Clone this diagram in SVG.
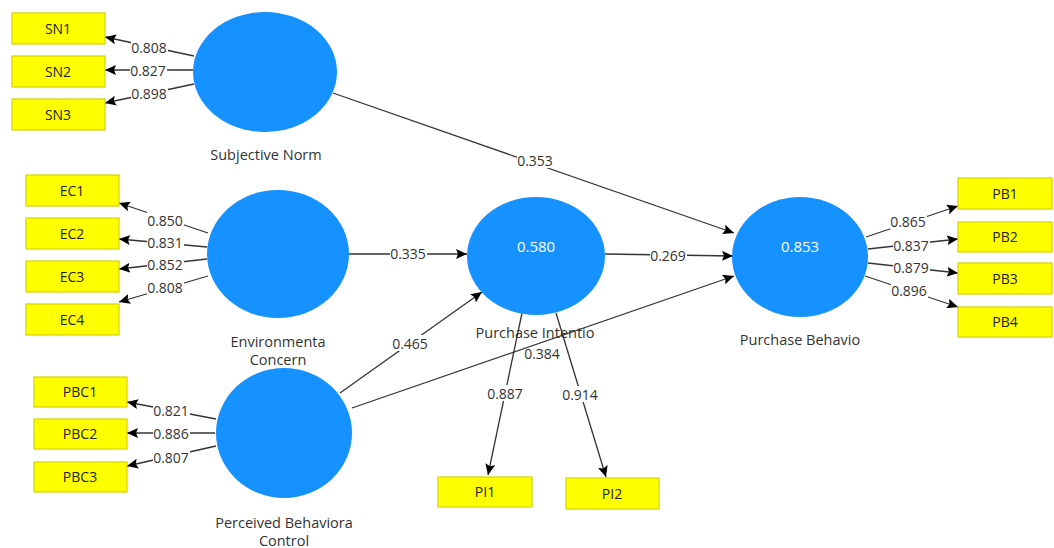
<svg xmlns="http://www.w3.org/2000/svg" width="1054" height="548" viewBox="0 0 1054 548">
<defs>
<marker id="ah" markerUnits="userSpaceOnUse" markerWidth="12" markerHeight="10" refX="11" refY="5" orient="auto">
<path d="M0,0 L11,5 L0,10 L2,5 Z" fill="#000"/>
</marker>
<style>
.lat{fill:#1592FF;}
.box{fill:#FFFF00;stroke:#D2D200;stroke-width:1.2;}
.bt{font-family:"Open Sans","Noto Sans",sans-serif;font-size:14px;fill:#222;text-anchor:middle;}
.nl{font-family:"Open Sans","Noto Sans",sans-serif;font-size:14.5px;fill:#333;text-anchor:middle;}
.r2{font-family:"Open Sans","Noto Sans",sans-serif;font-size:15px;fill:#FFFFFF;text-anchor:middle;}
.ln{stroke:#333;stroke-width:1.3;fill:none;marker-end:url(#ah);}
.lb{fill:#FFFFFF;}
.vt{font-family:"Open Sans","Noto Sans",sans-serif;font-size:14px;fill:#333;text-anchor:middle;dominant-baseline:central;}
</style>
</defs>
<rect width="1054" height="548" fill="#FFFFFF"/>
<g id="connectors">
<line class="ln" x1="194" y1="56" x2="105" y2="37"/>
<line class="ln" x1="193" y1="70" x2="105" y2="70"/>
<line class="ln" x1="194" y1="84" x2="105" y2="103"/>
<line class="ln" x1="208" y1="233" x2="119" y2="203"/>
<line class="ln" x1="207" y1="247" x2="119" y2="239"/>
<line class="ln" x1="207" y1="259" x2="119" y2="269"/>
<line class="ln" x1="208" y1="276" x2="119" y2="302"/>
<line class="ln" x1="216" y1="419" x2="127" y2="402"/>
<line class="ln" x1="215" y1="433" x2="127" y2="433"/>
<line class="ln" x1="216" y1="446" x2="127" y2="466"/>
<line class="ln" x1="866" y1="237" x2="958" y2="206"/>
<line class="ln" x1="868" y1="249" x2="958" y2="239"/>
<line class="ln" x1="868" y1="263" x2="958" y2="273"/>
<line class="ln" x1="865" y1="276" x2="958" y2="307"/>
<line class="ln" x1="522" y1="313" x2="488" y2="475"/>
<line class="ln" x1="556" y1="313" x2="606" y2="477"/>
<line class="ln" x1="333" y1="93" x2="734" y2="233"/>
<line class="ln" x1="349" y1="254" x2="467" y2="254"/>
<line class="ln" x1="605" y1="254" x2="733" y2="256"/>
<line class="ln" x1="340" y1="393" x2="482" y2="292"/>
<line class="ln" x1="352" y1="408" x2="734" y2="276"/>
<g id="connector-labels">
<rect class="lb" x="131" y="39" width="37" height="16"/><text class="vt" x="149" y="47">0.808</text>
<rect class="lb" x="130" y="62" width="37" height="16"/><text class="vt" x="148" y="70">0.827</text>
<rect class="lb" x="131" y="85" width="37" height="16"/><text class="vt" x="149" y="93">0.898</text>
<rect class="lb" x="147" y="212" width="37" height="16"/><text class="vt" x="165" y="220">0.850</text>
<rect class="lb" x="147" y="234" width="37" height="16"/><text class="vt" x="165" y="242">0.831</text>
<rect class="lb" x="147" y="256" width="37" height="16"/><text class="vt" x="165" y="264">0.852</text>
<rect class="lb" x="147" y="279" width="37" height="16"/><text class="vt" x="165" y="287">0.808</text>
<rect class="lb" x="153" y="402" width="37" height="16"/><text class="vt" x="171" y="410">0.821</text>
<rect class="lb" x="153" y="425" width="37" height="16"/><text class="vt" x="171" y="433">0.886</text>
<rect class="lb" x="153" y="449" width="37" height="16"/><text class="vt" x="171" y="457">0.807</text>
<rect class="lb" x="890" y="213" width="37" height="16"/><text class="vt" x="908" y="221">0.865</text>
<rect class="lb" x="893" y="237" width="37" height="16"/><text class="vt" x="911" y="245">0.837</text>
<rect class="lb" x="893" y="259" width="37" height="16"/><text class="vt" x="911" y="267">0.879</text>
<rect class="lb" x="891" y="282" width="37" height="16"/><text class="vt" x="909" y="290">0.896</text>
<rect class="lb" x="517" y="152" width="37" height="16"/><text class="vt" x="535" y="160">0.353</text>
<rect class="lb" x="390" y="245" width="37" height="16"/><text class="vt" x="408" y="253">0.335</text>
<rect class="lb" x="650" y="247" width="37" height="16"/><text class="vt" x="668" y="255">0.269</text>
<rect class="lb" x="392" y="335" width="37" height="16"/><text class="vt" x="410" y="343">0.465</text>
<rect class="lb" x="486" y="385" width="37" height="16"/><text class="vt" x="505" y="393">0.887</text>
<rect class="lb" x="561" y="386" width="37" height="16"/><text class="vt" x="580" y="394">0.914</text>
</g>
</g>
<g id="SN">
<ellipse class="lat" cx="265" cy="72" rx="72" ry="60"/>
<text class="nl" x="266" y="160">Subjective Norm</text>
</g>
<g id="EC">
<ellipse class="lat" cx="278" cy="254" rx="71" ry="64"/>
<text class="nl" x="278" y="347">Environmenta</text>
<text class="nl" x="278" y="365">Concern</text>
</g>
<g id="PBC">
<ellipse class="lat" cx="284" cy="433" rx="68" ry="65"/>
<text class="nl" x="284" y="528">Perceived Behaviora</text>
<text class="nl" x="284" y="546">Control</text>
</g>
<g id="PI">
<ellipse class="lat" cx="536" cy="256" rx="69" ry="59"/>
<text class="r2" x="536" y="252">0.580</text>
<text class="nl" x="535" y="338">Purchase Intentio</text>
</g>
<g id="PB">
<ellipse class="lat" cx="800" cy="257" rx="68" ry="60"/>
<text class="r2" x="800" y="252">0.853</text>
<text class="nl" x="800" y="345">Purchase Behavio</text>
</g>
<g id="label-384">
<text class="vt" x="542" y="353">0.384</text>
</g>
<g id="SN1"><rect class="box" x="12" y="13" width="93" height="31"/><text class="bt" x="58" y="34">SN1</text></g>
<g id="SN2"><rect class="box" x="12" y="56" width="93" height="31"/><text class="bt" x="58" y="77">SN2</text></g>
<g id="SN3"><rect class="box" x="12" y="99" width="93" height="31"/><text class="bt" x="58" y="120">SN3</text></g>
<g id="EC1"><rect class="box" x="26" y="175" width="93" height="31"/><text class="bt" x="72" y="196">EC1</text></g>
<g id="EC2"><rect class="box" x="26" y="218" width="93" height="31"/><text class="bt" x="72" y="239">EC2</text></g>
<g id="EC3"><rect class="box" x="26" y="261" width="93" height="31"/><text class="bt" x="72" y="282">EC3</text></g>
<g id="EC4"><rect class="box" x="26" y="304" width="93" height="31"/><text class="bt" x="72" y="325">EC4</text></g>
<g id="PBC1"><rect class="box" x="34" y="377" width="93" height="30"/><text class="bt" x="80" y="397">PBC1</text></g>
<g id="PBC2"><rect class="box" x="34" y="419" width="93" height="30"/><text class="bt" x="80" y="439">PBC2</text></g>
<g id="PBC3"><rect class="box" x="34" y="462" width="93" height="30"/><text class="bt" x="80" y="482">PBC3</text></g>
<g id="PB1"><rect class="box" x="958" y="178" width="94" height="31"/><text class="bt" x="1005" y="199">PB1</text></g>
<g id="PB2"><rect class="box" x="958" y="222" width="94" height="30"/><text class="bt" x="1005" y="242">PB2</text></g>
<g id="PB3"><rect class="box" x="958" y="263" width="94" height="31"/><text class="bt" x="1005" y="284">PB3</text></g>
<g id="PB4"><rect class="box" x="958" y="307" width="94" height="30"/><text class="bt" x="1005" y="327">PB4</text></g>
<g id="PI1"><rect class="box" x="438" y="477" width="94" height="30"/><text class="bt" x="485" y="497">PI1</text></g>
<g id="PI2"><rect class="box" x="566" y="478" width="93" height="31"/><text class="bt" x="612" y="499">PI2</text></g>
</svg>
